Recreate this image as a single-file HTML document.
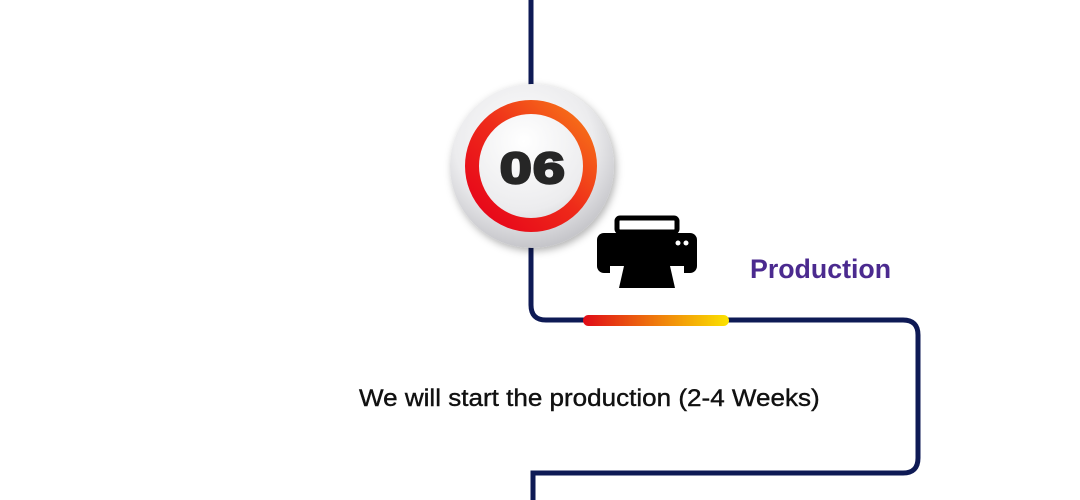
<!DOCTYPE html>
<html><head><meta charset="utf-8"><style>
html,body{margin:0;padding:0;background:#fff;width:1080px;height:500px;overflow:hidden;position:relative;font-family:"Liberation Sans",sans-serif}
.t{position:absolute;white-space:nowrap}
</style></head><body>
<svg width="1080" height="500" style="position:absolute;left:0;top:0">
<defs>
<radialGradient id="disc" cx="45%" cy="35%" r="70%">
<stop offset="0" stop-color="#ffffff"/><stop offset="0.6" stop-color="#ececee"/><stop offset="1" stop-color="#bdbdc2"/>
</radialGradient>
<linearGradient id="ring" x1="0" y1="1" x2="1" y2="0">
<stop offset="0" stop-color="#e6001a"/><stop offset="0.5" stop-color="#ee2a1a"/><stop offset="1" stop-color="#f87a18"/>
</linearGradient>
<linearGradient id="bar" x1="0" x2="1"><stop offset="0" stop-color="#e00a17"/><stop offset="0.5" stop-color="#ef7a0c"/><stop offset="1" stop-color="#fbe300"/></linearGradient>
<filter id="sh" x="-20%" y="-20%" width="140%" height="140%"><feDropShadow dx="2" dy="3" stdDeviation="4" flood-color="#000" flood-opacity="0.3"/></filter>
</defs>
<path d="M531 0 V90" stroke="#0e1a55" stroke-width="5" fill="none"/>
<path d="M531 245 V305 Q531 320 546 320 H903 Q918 320 918 335 V458 Q918 473 903 473 H533 V500" stroke="#0e1a55" stroke-width="5" fill="none"/>
<rect x="583" y="315" width="146" height="11" rx="5.5" fill="url(#bar)"/>
<circle cx="532" cy="166" r="82" fill="url(#disc)" filter="url(#sh)"/>
<circle cx="531" cy="166" r="59" fill="none" stroke="url(#ring)" stroke-width="14"/>
<text x="533" y="183" text-anchor="middle" font-family="Liberation Sans" font-weight="bold" font-size="44" fill="#262626" stroke="#262626" stroke-width="2.5" transform="translate(533 0) scale(1.3 1) translate(-533 0)" letter-spacing="1">06</text>
<!-- printer -->
<rect x="617" y="218" width="60" height="14" rx="3" fill="none" stroke="#000" stroke-width="5"/>
<rect x="597" y="233" width="100" height="40" rx="7" fill="#000"/>
<circle cx="678" cy="243" r="2.5" fill="#fff"/><circle cx="686" cy="243" r="2.5" fill="#fff"/>
<rect x="610" y="266" width="74" height="7" fill="#fff"/>
<path d="M624 266 H670 L675 288 H619 Z" fill="#000"/>
</svg>
<div class="t" style="left:750px;top:254px;font-size:27px;font-weight:bold;color:#4b2a8f;transform:scaleX(0.99);transform-origin:left">Production</div>
<div class="t" style="left:359px;top:385px;font-size:24px;color:#111;transform:scaleX(1.085);transform-origin:left;-webkit-text-stroke:0.4px #111">We will start the production (2-4 Weeks)</div>
</body></html>
